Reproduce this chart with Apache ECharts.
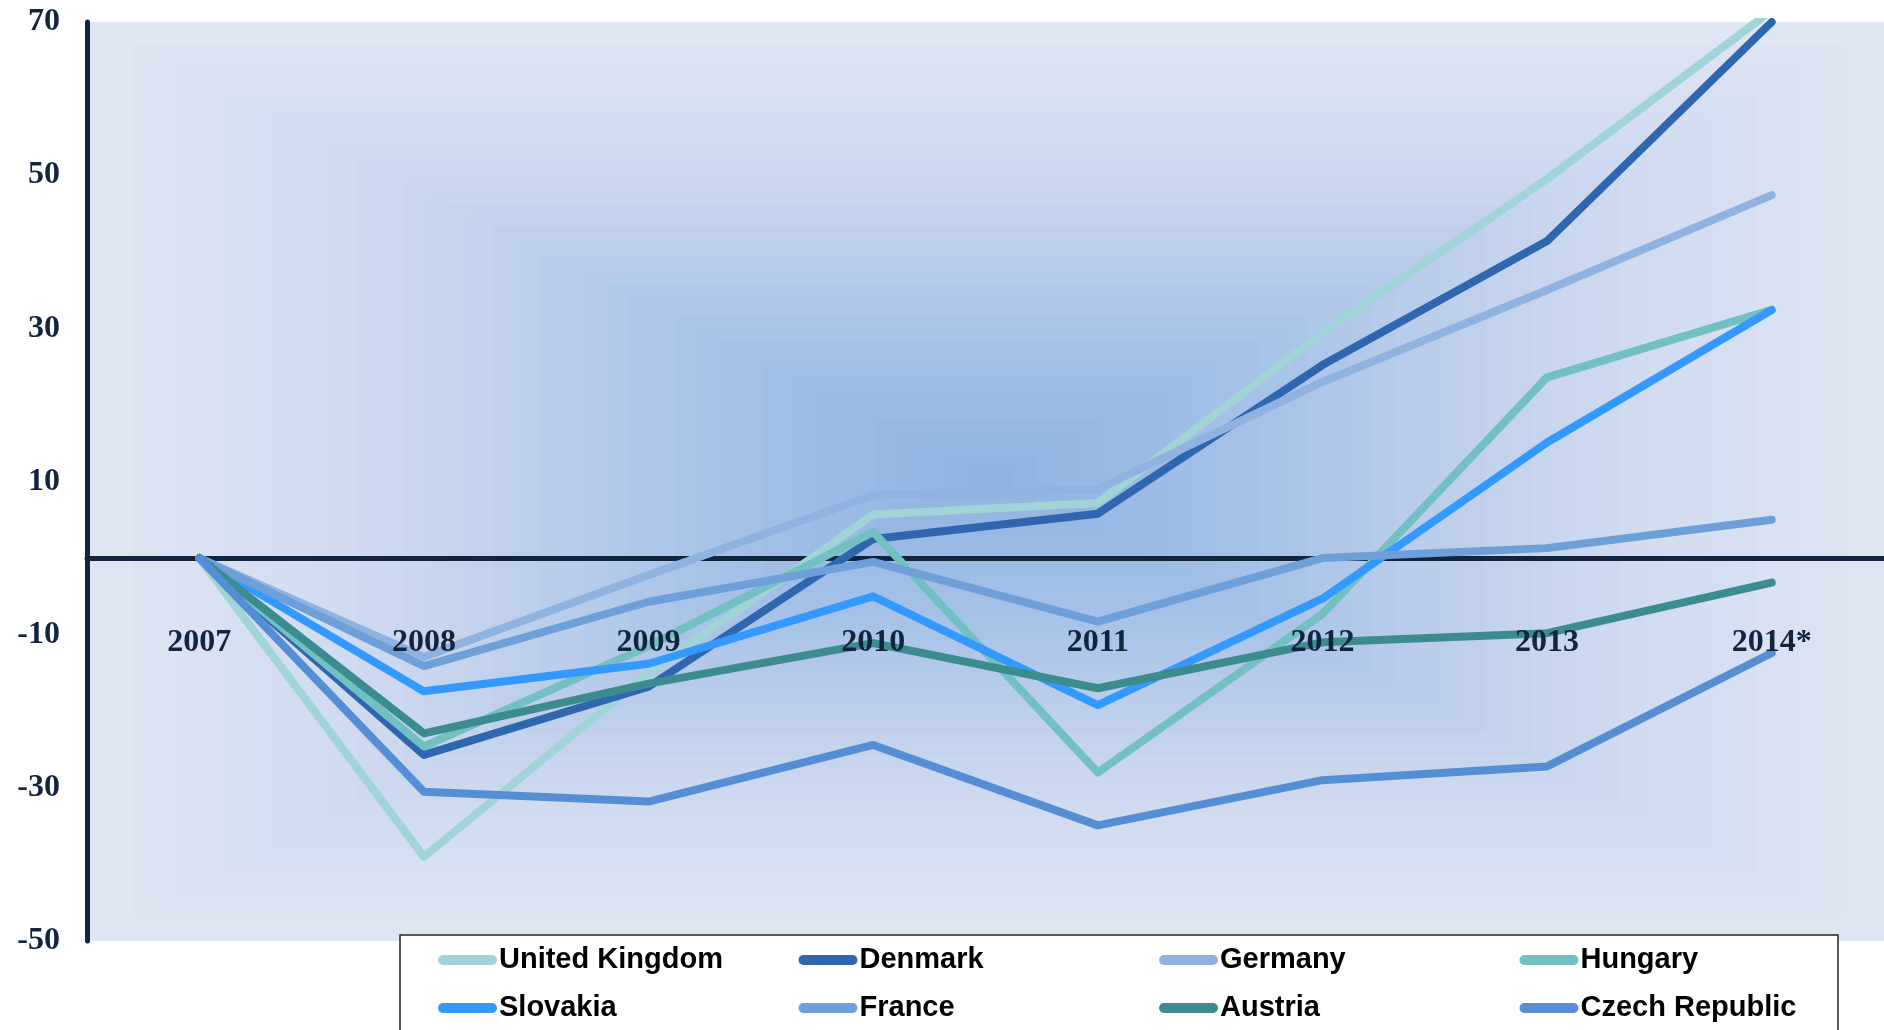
<!DOCTYPE html>
<html>
<head>
<meta charset="utf-8">
<title>line chart</title>
<script src="https://cdn.jsdelivr.net/npm/echarts@6/dist/echarts.min.js"></script>
<style>
  html, body { margin: 0; padding: 0; background: #ffffff; }
  #lineChart { width: 1884px; height: 1030px; }
</style>
</head>
<body>
<div id="lineChart"></div>
<script>
// categories and tick labels
var years = ['2007', '2008', '2009', '2010', '2011', '2012', '2013', '2014*'];
var yTicks = [-50, -30, -10, 10, 30, 50, 70];

// series values
var unitedKingdom = [0, -39.0, -15.0, 5.7, 7.2, 29.4, 49.5, 71.5];
var denmark       = [0, -25.7, -16.8, 2.5, 5.8, 25.2, 41.4, 70.0];
var germany       = [0, -12.9, -2.2, 8.2, 9.0, 23.0, 35.0, 47.4];
var hungary       = [0, -24.6, -11.5, 3.4, -28.0, -7.3, 23.6, 32.4];
var slovakia      = [0, -17.4, -13.8, -5.0, -19.2, -5.3, 15.1, 32.4];
var france        = [0, -14.1, -5.7, -0.5, -8.3, 0.0, 1.3, 5.0];
var austria       = [0, -22.9, -16.4, -11.1, -17.0, -11.0, -9.8, -3.2];
var czechRepublic = [0, -30.5, -31.8, -24.4, -34.9, -29.0, -27.2, -12.4];

var names  = ['United Kingdom', 'Denmark', 'Germany', 'Hungary', 'Slovakia', 'France', 'Austria', 'Czech Republic'];
var values = [unitedKingdom, denmark, germany, hungary, slovakia, france, austria, czechRepublic];
var colors = ['#a0d4d6', '#2e67b0', '#8fb2e0', '#72c0c2', '#3399ff', '#6e9fd8', '#3c8c8f', '#568ed6'];

var navy = '#13243f';
var gridLeft = 87, gridTop = 22, gridWidth = 1804, gridHeight = 919;
var labelFont = {
  color: navy,
  fontFamily: '"Liberation Serif", "Times New Roman", serif',
  fontWeight: 'bold',
  fontSize: 32
};

// "rectangle from centre" fill of the plot area, built from nested rects
var bgStops = [[0, [141, 178, 224]], [0.33, [168, 195, 232]], [0.5, [188, 205, 235]], [0.75, [210, 220, 240]], [1, [223, 230, 243]]];
function bgColor(t) {
  for (var i = 1; i < bgStops.length; i++) {
    if (t <= bgStops[i][0]) {
      var a = bgStops[i - 1], b = bgStops[i];
      var f = (t - a[0]) / (b[0] - a[0]);
      var c = a[1].map(function (v, k) { return Math.round(v + (b[1][k] - v) * f); });
      return 'rgb(' + c.join(',') + ')';
    }
  }
  return 'rgb(223,230,243)';
}
var cx = 990, cy = 477;
var steps = 40;
var background = [];
for (var k = steps; k >= 1; k--) {
  var t = k / steps;
  var x0 = cx - t * (cx - gridLeft), x1 = cx + t * (gridLeft + gridWidth - cx);
  var y0 = cy - t * (cy - gridTop), y1 = cy + t * (gridTop + gridHeight - cy);
  background.push({
    type: 'rect',
    z: -1,
    z2: steps - k,
    silent: true,
    shape: { x: x0, y: y0, width: x1 - x0, height: y1 - y0 },
    style: { fill: bgColor(t) }
  });
}

var chart = echarts.init(document.getElementById('lineChart'));

// one legend per entry so the 4 columns line up like the original
var legends = names.map(function (name, i) {
  return {
    data: [name],
    left: 438 + (i % 4) * 360.5,
    top: 944 + Math.floor(i / 4) * 48,
    padding: 0,
    itemWidth: 59,
    itemHeight: 10,
    itemGap: 0,
    icon: 'path://M5,0 L54,0 A5,5 0 0 1 54,10 L5,10 A5,5 0 0 1 5,0 Z',
    textStyle: {
      color: '#000000',
      fontFamily: '"Liberation Sans", Arial, sans-serif',
      fontWeight: 'bold',
      fontSize: 29,
      lineHeight: 32,
      padding: [0, 0, 0, -3]
    }
  };
});

chart.setOption({
  animation: false,
  grid: { left: gridLeft, top: gridTop, width: gridWidth, height: gridHeight },
  graphic: background.concat([
    {
      // legend frame
      type: 'rect',
      x: 400,
      y: 935,
      z: 3,
      silent: true,
      shape: { x: 0, y: 0, width: 1438, height: 130 },
      style: { fill: '#ffffff', stroke: '#222222', lineWidth: 1.5 }
    }
  ]),
  legend: legends,
  xAxis: [
    {
      // zero line, under the series
      type: 'category',
      data: years,
      position: 'bottom',
      boundaryGap: true,
      axisTick: { show: false },
      axisLine: { show: true, onZero: true, lineStyle: { color: navy, width: 5 } },
      axisLabel: { show: false },
      splitLine: { show: false }
    },
    {
      // year labels, drawn over the series just under the zero line
      type: 'category',
      data: years,
      position: 'bottom',
      boundaryGap: true,
      z: 5,
      axisTick: { show: false },
      axisLine: { show: false },
      axisLabel: Object.assign({ margin: -314 }, labelFont),
      splitLine: { show: false }
    }
  ],
  yAxis: {
    type: 'value',
    min: yTicks[0],
    max: yTicks[yTicks.length - 1],
    interval: 20,
    axisLine: { show: true, onZero: false, lineStyle: { color: navy, width: 5 } },
    axisTick: { show: false },
    splitLine: { show: false },
    axisLabel: Object.assign({ margin: 27 }, labelFont)
  },
  series: names.map(function (name, i) {
    return {
      name: name,
      type: 'line',
      xAxisIndex: 0,
      data: values[i],
      showSymbol: false,
      symbol: 'none',
      color: colors[i],
      clip: true,
      lineStyle: { color: colors[i], width: 8, cap: 'round', join: 'round' }
    };
  })
});
</script>
</body>
</html>
